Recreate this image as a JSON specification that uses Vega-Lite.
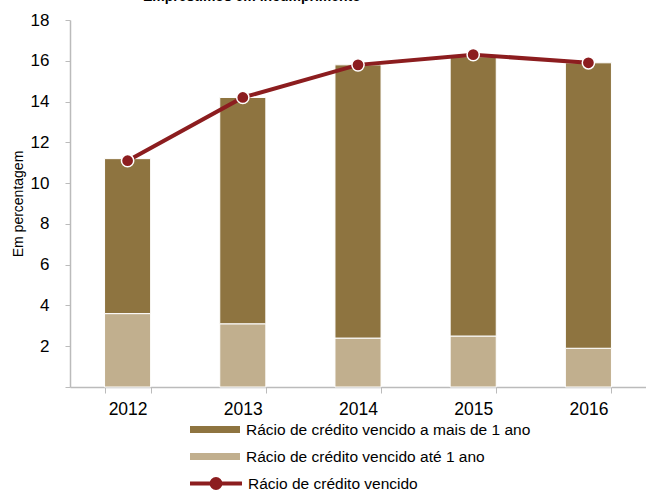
{
  "$schema": "https://vega.github.io/schema/vega-lite/v6.json",
  "autosize": {"type": "none"},
  "padding": {"left": 70, "top": 20, "right": 0, "bottom": 103},
  "width": 576,
  "height": 367,
  "background": "white",
  "config": {
    "view": {"stroke": null},
    "font": "Liberation Sans"
  },
  "title": {
    "text": "Empréstimos em incumprimento",
    "font": "Liberation Sans",
    "fontSize": 14,
    "fontWeight": "bold",
    "color": "#000000",
    "anchor": "start",
    "frame": "group",
    "dx": 73,
    "baseline": "alphabetic",
    "offset": -4
  },
  "datasets": {
    "bars": [
      {"ano": "2012", "serie": "Rácio de crédito vencido até 1 ano", "valor": 3.6, "ord": 1},
      {"ano": "2012", "serie": "Rácio de crédito vencido a mais de 1 ano", "valor": 7.6, "ord": 2},
      {"ano": "2013", "serie": "Rácio de crédito vencido até 1 ano", "valor": 3.1, "ord": 1},
      {"ano": "2013", "serie": "Rácio de crédito vencido a mais de 1 ano", "valor": 11.1, "ord": 2},
      {"ano": "2014", "serie": "Rácio de crédito vencido até 1 ano", "valor": 2.4, "ord": 1},
      {"ano": "2014", "serie": "Rácio de crédito vencido a mais de 1 ano", "valor": 13.4, "ord": 2},
      {"ano": "2015", "serie": "Rácio de crédito vencido até 1 ano", "valor": 2.5, "ord": 1},
      {"ano": "2015", "serie": "Rácio de crédito vencido a mais de 1 ano", "valor": 13.7, "ord": 2},
      {"ano": "2016", "serie": "Rácio de crédito vencido até 1 ano", "valor": 1.9, "ord": 1},
      {"ano": "2016", "serie": "Rácio de crédito vencido a mais de 1 ano", "valor": 14.0, "ord": 2}
    ],
    "linha": [
      {"ano": "2012", "serie": "Rácio de crédito vencido", "valor": 11.1},
      {"ano": "2013", "serie": "Rácio de crédito vencido", "valor": 14.2},
      {"ano": "2014", "serie": "Rácio de crédito vencido", "valor": 15.8},
      {"ano": "2015", "serie": "Rácio de crédito vencido", "valor": 16.3},
      {"ano": "2016", "serie": "Rácio de crédito vencido", "valor": 15.9}
    ]
  },
  "encoding": {
    "x": {
      "field": "ano",
      "type": "ordinal",
      "scale": {"paddingInner": 0.6, "paddingOuter": 0.3},
      "axis": {
        "title": null,
        "labelAngle": 0,
        "labelFontSize": 17.5,
        "labelColor": "#000000",
        "labelPadding": 7,
        "domainColor": "#BBBBBB",
        "domainWidth": 1.5,
        "tickColor": "#BBBBBB",
        "tickSize": 6,
        "tickBand": "extent",
        "grid": false
      }
    }
  },
  "layer": [
    {
      "data": {"name": "bars"},
      "mark": {"type": "bar", "stroke": "white", "strokeWidth": 1},
      "encoding": {
        "y": {
          "field": "valor",
          "type": "quantitative",
          "stack": "zero",
          "scale": {"domain": [0, 18], "nice": false},
          "axis": {
            "title": "Em percentagem",
            "titleFontSize": 14,
            "titleFontWeight": "normal",
            "titleColor": "#000000",
            "titlePadding": 5,
            "values": [0, 2, 4, 6, 8, 10, 12, 14, 16, 18],
            "labelExpr": "datum.value == 0 ? '' : datum.label",
            "labelFontSize": 17,
            "labelColor": "#000000",
            "labelPadding": 16,
            "domainColor": "#BBBBBB",
            "domainWidth": 1.5,
            "tickColor": "#BBBBBB",
            "tickSize": 5,
            "grid": false
          }
        },
        "fill": {
          "field": "serie",
          "type": "nominal",
          "scale": {
            "domain": ["Rácio de crédito vencido a mais de 1 ano", "Rácio de crédito vencido até 1 ano"],
            "range": ["#8E7440", "#C1AF8E"]
          },
          "legend": {
            "title": null,
            "orient": "none",
            "legendX": 120,
            "legendY": 401,
            "symbolType": "M-1,-0.14H1V0.14H-1Z",
            "symbolSize": 2500,
            "symbolStrokeWidth": 0,
            "clipHeight": 17,
            "rowPadding": 10,
            "labelFontSize": 15.5,
            "labelColor": "#000000",
            "labelOffset": 6,
            "labelLimit": 400
          }
        },
        "order": {"field": "ord", "type": "quantitative"}
      }
    },
    {
      "data": {"name": "linha"},
      "mark": {"type": "line", "strokeWidth": 4},
      "encoding": {
        "y": {"field": "valor", "type": "quantitative"},
        "stroke": {
          "field": "serie",
          "type": "nominal",
          "scale": {"domain": ["Rácio de crédito vencido"], "range": ["#8C1D1F"]},
          "legend": {
            "title": null,
            "orient": "none",
            "legendX": 118,
            "legendY": 455,
            "symbolType": "M-1,0H1M0.17,0A0.17,0.17 0 1,1 -0.17,0A0.17,0.17 0 1,1 0.17,0Z",
            "symbolSize": 2700,
            "symbolStrokeWidth": 4,
            "symbolFillColor": "#8C1D1F",
            "clipHeight": 17,
            "labelFontSize": 15.5,
            "labelColor": "#000000",
            "labelOffset": 4,
            "labelLimit": 400
          }
        }
      }
    },
    {
      "data": {"name": "linha"},
      "mark": {"type": "point", "filled": true, "fill": "#8C1D1F", "stroke": "white", "strokeWidth": 1.5, "size": 150, "opacity": 1},
      "encoding": {
        "y": {"field": "valor", "type": "quantitative"}
      }
    }
  ]
}
